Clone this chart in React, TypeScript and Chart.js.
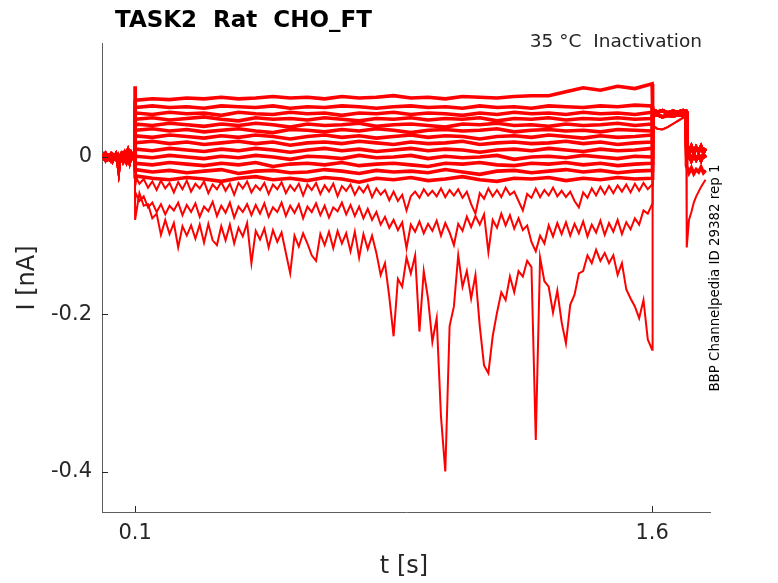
import { useEffect, useRef } from "react";
import { Chart, registerables } from "chart.js";

Chart.register(...registerables);

// ---------- axis ticks ----------
const xTickValues = [0.1, 1.6];
const xTickLabels = ["0.1", "1.6"];
const yTickValues = [-0.4, -0.2, 0];
const yTickLabels = ["-0.4", "-0.2", "0"];

// ---------- pre-pulse holding segment (0 .. 0.1 s) ----------
const preTimes = [0.0045, 0.0095, 0.0145, 0.0195, 0.0245, 0.0295, 0.0345, 0.0395, 0.0445, 0.0495, 0.0525, 0.0545, 0.0595, 0.0645, 0.0695, 0.0745, 0.0795, 0.0845, 0.0895, 0.0995];
const preA = [0.002, -0.001, 0.003, -0.002, 0.001, -0.003, 0.002, -0.001, 0.003, -0.004, -0.014, -0.006, -0.001, 0.003, -0.002, 0.004, -0.003, 0.004, -0.002, 0.003];
const preB = [-0.002, 0.002, -0.003, 0.001, -0.002, 0.002, -0.004, 0.001, -0.002, 0.001, -0.008, -0.003, 0.002, -0.004, 0.003, -0.004, 0.005, -0.005, 0.004, -0.004];

// ---------- onset transient value at t = 0.1 s, one per trace ----------
const onsetValues = [0.09, 0.072, 0.062, 0.055, 0.047, 0.04, 0.032, 0.024, 0.015, 0.005, -0.005, -0.015, -0.025, -0.035, -0.055, -0.08];

// ---------- conditioning pulse, coarse traces (0.1 .. 1.6 s, every 0.05 s) ----------
const U1 = [0.072, 0.074, 0.073, 0.075, 0.074, 0.076, 0.074, 0.075, 0.077, 0.075, 0.076, 0.074, 0.077, 0.075, 0.076, 0.078, 0.075, 0.076, 0.074, 0.077, 0.076, 0.075, 0.077, 0.078, 0.078, 0.083, 0.088, 0.085, 0.09, 0.087, 0.093];
const U2 = [0.063, 0.065, 0.063, 0.064, 0.062, 0.065, 0.064, 0.063, 0.065, 0.062, 0.064, 0.063, 0.065, 0.064, 0.062, 0.064, 0.065, 0.063, 0.064, 0.062, 0.065, 0.063, 0.064, 0.062, 0.065, 0.064, 0.063, 0.065, 0.064, 0.066, 0.065];
const U3 = [0.056, 0.054, 0.057, 0.055, 0.056, 0.053, 0.057, 0.055, 0.054, 0.057, 0.055, 0.056, 0.053, 0.056, 0.055, 0.057, 0.054, 0.056, 0.055, 0.053, 0.056, 0.054, 0.057, 0.055, 0.056, 0.054, 0.057, 0.055, 0.056, 0.054, 0.057];
const U4 = [0.048, 0.05, 0.047, 0.049, 0.051, 0.048, 0.046, 0.05, 0.048, 0.049, 0.047, 0.05, 0.048, 0.046, 0.049, 0.048, 0.05, 0.047, 0.049, 0.048, 0.05, 0.046, 0.049, 0.048, 0.05, 0.047, 0.049, 0.048, 0.05, 0.048, 0.049];
const U5 = [0.042, 0.04, 0.043, 0.041, 0.039, 0.042, 0.04, 0.043, 0.041, 0.038, 0.042, 0.04, 0.041, 0.043, 0.039, 0.041, 0.042, 0.04, 0.038, 0.042, 0.041, 0.043, 0.04, 0.041, 0.039, 0.042, 0.04, 0.041, 0.043, 0.04, 0.042];
const U6 = [0.034, 0.036, 0.033, 0.035, 0.032, 0.034, 0.036, 0.033, 0.031, 0.035, 0.034, 0.032, 0.035, 0.033, 0.036, 0.034, 0.031, 0.034, 0.035, 0.033, 0.034, 0.036, 0.032, 0.034, 0.035, 0.033, 0.034, 0.032, 0.035, 0.034, 0.033];
const U7 = [0.027, 0.025, 0.028, 0.026, 0.024, 0.027, 0.025, 0.028, 0.026, 0.023, 0.026, 0.028, 0.025, 0.027, 0.024, 0.026, 0.028, 0.025, 0.027, 0.026, 0.023, 0.026, 0.027, 0.025, 0.028, 0.026, 0.024, 0.027, 0.025, 0.026, 0.028];
const U8 = [0.018, 0.02, 0.017, 0.019, 0.016, 0.018, 0.02, 0.017, 0.019, 0.015, 0.018, 0.019, 0.017, 0.02, 0.018, 0.016, 0.019, 0.017, 0.018, 0.02, 0.016, 0.018, 0.019, 0.017, 0.018, 0.02, 0.017, 0.019, 0.016, 0.018, 0.019];
const U9 = [0.01, 0.008, 0.011, 0.009, 0.007, 0.01, 0.008, 0.011, 0.009, 0.006, 0.009, 0.011, 0.008, 0.01, 0.007, 0.009, 0.011, 0.008, 0.01, 0.009, 0.006, 0.009, 0.01, 0.008, 0.011, 0.009, 0.007, 0.01, 0.008, 0.009, 0.011];
const U10 = [0.001, -0.001, 0.002, 0.0, -0.002, 0.001, -0.001, 0.002, 0.0, -0.003, 0.001, 0.0, -0.002, 0.002, -0.001, 0.0, 0.002, -0.002, 0.001, -0.001, 0.0, 0.002, -0.003, 0.0, 0.001, -0.001, 0.002, 0.0, -0.002, 0.001, 0.0];
const U11 = [-0.008, -0.01, -0.007, -0.009, -0.011, -0.008, -0.01, -0.007, -0.012, -0.009, -0.008, -0.01, -0.007, -0.011, -0.009, -0.008, -0.01, -0.012, -0.008, -0.009, -0.007, -0.01, -0.011, -0.008, -0.009, -0.007, -0.01, -0.008, -0.011, -0.009, -0.008];
const U12 = [-0.016, -0.019, -0.017, -0.02, -0.018, -0.016, -0.021, -0.018, -0.017, -0.02, -0.019, -0.016, -0.018, -0.021, -0.017, -0.019, -0.018, -0.02, -0.016, -0.019, -0.022, -0.018, -0.017, -0.02, -0.018, -0.016, -0.019, -0.017, -0.02, -0.018, -0.017];
const U13 = [-0.024, -0.027, -0.029, -0.026, -0.028, -0.031, -0.027, -0.025, -0.029, -0.027, -0.03, -0.026, -0.028, -0.032, -0.027, -0.029, -0.026, -0.03, -0.028, -0.025, -0.029, -0.031, -0.027, -0.028, -0.026, -0.03, -0.027, -0.029, -0.026, -0.028, -0.027];

// ---------- conditioning pulse, fine traces (0.1 .. 1.6 s, every 0.0125 s) ----------
const TA = [
  -0.024, -0.034, -0.028, -0.039, -0.031, -0.042, -0.03, -0.04, -0.033, -0.045,
  -0.032, -0.041, -0.03, -0.044, -0.034, -0.04, -0.031, -0.046, -0.035, -0.041,
  -0.032, -0.043, -0.034, -0.048, -0.033, -0.04, -0.031, -0.045, -0.036, -0.042,
  -0.033, -0.047, -0.035, -0.041, -0.032, -0.046, -0.036, -0.043, -0.034, -0.049,
  -0.035, -0.042, -0.033, -0.047, -0.036, -0.044, -0.034, -0.05, -0.037, -0.043,
  -0.035, -0.048, -0.038, -0.045, -0.036, -0.051, -0.04, -0.048, -0.042, -0.055,
  -0.044, -0.056, -0.048, -0.068, -0.05, -0.044, -0.052, -0.041, -0.049, -0.043,
  -0.05, -0.04, -0.051, -0.042, -0.049, -0.041, -0.052, -0.044, -0.06, -0.072,
  -0.046, -0.053, -0.04, -0.05, -0.042, -0.051, -0.039, -0.048, -0.044, -0.056,
  -0.068, -0.047, -0.052, -0.04, -0.051, -0.042, -0.049, -0.039, -0.05, -0.043,
  -0.051, -0.044, -0.056, -0.064, -0.045, -0.052, -0.04, -0.049, -0.038, -0.047,
  -0.037, -0.046, -0.036, -0.044, -0.035, -0.045, -0.034, -0.043, -0.033, -0.041,
  -0.035,
];
const TB = [
  -0.045, -0.056, -0.05, -0.064, -0.058, -0.07, -0.06, -0.073, -0.062, -0.068,
  -0.058, -0.074, -0.061, -0.07, -0.059, -0.076, -0.063, -0.069, -0.057, -0.075,
  -0.062, -0.071, -0.058, -0.077, -0.063, -0.07, -0.06, -0.074, -0.061, -0.072,
  -0.059, -0.076, -0.064, -0.07, -0.058, -0.075, -0.062, -0.071, -0.06, -0.078,
  -0.063, -0.07, -0.059, -0.074, -0.062, -0.077, -0.064, -0.069, -0.058, -0.073,
  -0.061, -0.075, -0.063, -0.078, -0.066, -0.08, -0.07, -0.086, -0.076, -0.09,
  -0.08, -0.093, -0.083, -0.116, -0.086, -0.095, -0.082, -0.097, -0.085, -0.094,
  -0.081, -0.1, -0.084, -0.096, -0.112, -0.085, -0.094, -0.076, -0.089, -0.075,
  -0.086, -0.073, -0.121, -0.08, -0.09, -0.072, -0.087, -0.074, -0.091, -0.078,
  -0.093, -0.087, -0.108, -0.12, -0.1, -0.11, -0.087, -0.101, -0.084, -0.098,
  -0.083, -0.1, -0.085, -0.097, -0.082, -0.101, -0.086, -0.096, -0.081, -0.099,
  -0.084, -0.095, -0.08, -0.098, -0.083, -0.092, -0.078, -0.086, -0.068, -0.072,
  -0.06,
];
const TC = [
  -0.08, -0.046, -0.062, -0.06, -0.078, -0.072, -0.099, -0.08, -0.098, -0.084,
  -0.115, -0.088, -0.1, -0.087, -0.104, -0.086, -0.109, -0.085, -0.106, -0.112,
  -0.088, -0.106, -0.086, -0.11, -0.09, -0.101, -0.084, -0.135, -0.094, -0.105,
  -0.091, -0.115, -0.093, -0.108, -0.096, -0.122, -0.148, -0.1, -0.114, -0.097,
  -0.11, -0.125, -0.132, -0.098, -0.112, -0.095, -0.116, -0.094, -0.11, -0.097,
  -0.12, -0.095, -0.128, -0.098, -0.117, -0.1, -0.122, -0.15, -0.135, -0.178,
  -0.228, -0.155, -0.165, -0.128, -0.148, -0.125, -0.222, -0.145, -0.18, -0.235,
  -0.205, -0.33, -0.4, -0.215, -0.19, -0.125, -0.165, -0.145, -0.18, -0.15,
  -0.215, -0.265, -0.275, -0.228, -0.198, -0.172, -0.182, -0.152, -0.172, -0.145,
  -0.152, -0.132, -0.14, -0.36, -0.128, -0.158, -0.165, -0.198, -0.17, -0.21,
  -0.237, -0.188, -0.175, -0.148, -0.145, -0.125, -0.135, -0.118, -0.132, -0.122,
  -0.135, -0.125, -0.15, -0.135, -0.168, -0.18, -0.19, -0.205, -0.182, -0.232,
  -0.245,
];

const coarseTraces = [U1, U2, U3, U4, U5, U6, U7, U8, U9, U10, U11, U12, U13];
const fineTraces = [TA, TB, TC];

// ---------- test pulse (1.6 .. 1.7 s) ----------
const post1Times = [1.6015, 1.615, 1.63, 1.645, 1.66, 1.675, 1.69, 1.699];
const post1A = [0.06, 0.057, 0.059, 0.056, 0.058, 0.057, 0.059, 0.058];
const post1B = [0.052, 0.054, 0.051, 0.053, 0.052, 0.054, 0.053, 0.055];
const post1C = [0.04, 0.036, 0.035, 0.038, 0.042, 0.046, 0.05, 0.053];

// ---------- tail (1.7 .. 1.755 s) ----------
const post2Times = [1.7005, 1.707, 1.714, 1.721, 1.728, 1.735, 1.742, 1.749, 1.755];
const post2A = [0.012, 0.006, 0.013, 0.005, 0.012, 0.007, 0.013, 0.006, 0.011];
const post2B = [-0.002, 0.004, -0.004, 0.003, -0.003, 0.002, -0.004, 0.003, -0.001];
const post2C = [-0.115, -0.08, -0.07, -0.058, -0.05, -0.044, -0.038, -0.033, -0.029];
const post2D = [-0.012, -0.02, -0.014, -0.021, -0.016, -0.019, -0.013, -0.02, -0.017];

// which test/tail segment each trace (U1..U13, A, B, C) follows
const post1Group = ["a", "a", "a", "b", "a", "b", "a", "b", "a", "b", "a", "b", "a", "b", "c", "c"];
const post2Group = ["a", "b", "a", "b", "a", "b", "a", "b", "a", "b", "d", "a", "b", "d", "d", "c"];

const TITLE = "TASK2  Rat  CHO_FT";
const SUBTITLE = "35 °C  Inactivation";
const SIDE_TEXT = "BBP Channelpedia ID 29382 rep 1";
const X_LABEL = "t [s]";
const Y_LABEL = "I [nA]";

const FONT = "'DejaVu Sans', 'Liberation Sans', sans-serif";
const TEXT_COLOR = "#262626";

function buildDatasets() {
  const p1: Record<string, number[]> = { a: post1A, b: post1B, c: post1C };
  const p2: Record<string, number[]> = { a: post2A, b: post2B, c: post2C, d: post2D };
  const all = [...coarseTraces, ...fineTraces];
  return all.map((vals, i) => {
    const isFine = i >= coarseTraces.length;
    const step = isFine ? 0.0125 : 0.05;
    const pre = i % 2 === 0 ? preA : preB;
    const pts: { x: number; y: number }[] = [];
    preTimes.forEach((t, k) => pts.push({ x: t, y: pre[k] }));
    pts.push({ x: 0.1, y: onsetValues[i] });
    vals.forEach((v, k) => pts.push({ x: k === 0 ? 0.1005 : 0.1 + step * k, y: v }));
    const g1 = p1[post1Group[i]];
    post1Times.forEach((t, k) => pts.push({ x: t, y: g1[k] }));
    const g2 = p2[post2Group[i]];
    post2Times.forEach((t, k) => pts.push({ x: t, y: g2[k] }));
    return {
      data: pts,
      borderColor: "#ff0000",
      backgroundColor: "#ff0000",
      borderWidth: isFine ? 2 : 3.6,
      pointRadius: 0,
      tension: 0,
      fill: false,
    };
  });
}

const decorations = {
  id: "decorations",
  afterDraw(chart: any) {
    const { ctx, chartArea, scales } = chart;
    ctx.save();
    // inward ticks
    ctx.strokeStyle = TEXT_COLOR;
    ctx.lineWidth = 1;
    xTickValues.forEach((v) => {
      const px = Math.round(scales.x.getPixelForValue(v)) + 0.5;
      ctx.beginPath();
      ctx.moveTo(px, chartArea.bottom);
      ctx.lineTo(px, chartArea.bottom - 6);
      ctx.stroke();
    });
    yTickValues.forEach((v) => {
      const py = Math.round(scales.y.getPixelForValue(v)) + 0.5;
      ctx.beginPath();
      ctx.moveTo(chartArea.left, py);
      ctx.lineTo(chartArea.left + 6, py);
      ctx.stroke();
    });
    // title
    ctx.fillStyle = "#000000";
    ctx.font = `bold 23px ${FONT}`;
    ctx.textAlign = "left";
    ctx.textBaseline = "alphabetic";
    ctx.fillText(TITLE, 115, 27);
    // subtitle
    ctx.fillStyle = TEXT_COLOR;
    ctx.font = `18.5px ${FONT}`;
    ctx.textAlign = "right";
    ctx.fillText(SUBTITLE, 702, 47);
    // x label
    ctx.font = `24px ${FONT}`;
    ctx.textAlign = "center";
    ctx.textBaseline = "middle";
    ctx.fillText(X_LABEL, 404, 567);
    // y label
    ctx.save();
    ctx.translate(28, 278);
    ctx.rotate(-Math.PI / 2);
    ctx.fillText(Y_LABEL, 0, 0);
    ctx.restore();
    // side text
    ctx.save();
    ctx.translate(716, 278);
    ctx.rotate(-Math.PI / 2);
    ctx.font = `13.4px ${FONT}`;
    ctx.fillStyle = "#000000";
    ctx.fillText(SIDE_TEXT, 0, 0);
    ctx.restore();
    ctx.restore();
  },
};

export default function App() {
  const ref = useRef<HTMLCanvasElement | null>(null);
  useEffect(() => {
    if (!ref.current) return;
    const chart = new Chart(ref.current, {
      type: "line",
      data: { datasets: buildDatasets() as any },
      options: {
        animation: false,
        responsive: false,
        maintainAspectRatio: false,
        parsing: false,
        normalized: true,
        layout: { padding: { left: 0, right: 68, top: 43, bottom: 0 } },
        plugins: {
          legend: { display: false },
          tooltip: { enabled: false },
          title: { display: false },
        },
        scales: {
          x: {
            type: "linear",
            min: 0.004,
            max: 1.768,
            grid: { display: false, drawTicks: false },
            border: { display: true, color: "#5e5e5e", width: 1 },
            afterBuildTicks: (scale: any) => {
              scale.ticks = xTickValues.map((v) => ({ value: v }));
            },
            afterFit: (scale: any) => {
              scale.height = 71;
            },
            ticks: {
              autoSkip: false,
              maxRotation: 0,
              padding: 9,
              color: TEXT_COLOR,
              font: { family: FONT, size: 21 },
              callback: (value: any) => {
                const idx = xTickValues.findIndex((v) => Math.abs(v - Number(value)) < 1e-6);
                return idx >= 0 ? xTickLabels[idx] : "";
              },
            },
          },
          y: {
            type: "linear",
            min: -0.4515,
            max: 0.145,
            grid: { display: false, drawTicks: false },
            border: { display: true, color: "#5e5e5e", width: 1 },
            afterBuildTicks: (scale: any) => {
              scale.ticks = yTickValues.map((v) => ({ value: v }));
            },
            afterFit: (scale: any) => {
              scale.width = 102;
            },
            ticks: {
              autoSkip: false,
              padding: 10,
              color: TEXT_COLOR,
              font: { family: FONT, size: 21 },
              callback: (value: any) => {
                const idx = yTickValues.findIndex((v) => Math.abs(v - Number(value)) < 1e-6);
                return idx >= 0 ? yTickLabels[idx] : "";
              },
            },
          },
        },
      },
      plugins: [decorations],
    });
    return () => chart.destroy();
  }, []);
  return (
    <div style={{ position: "fixed", left: 0, top: 0, width: 778, height: 583, background: "#ffffff" }}>
      <canvas ref={ref} width={778} height={583} style={{ width: 778, height: 583, display: "block" }} />
    </div>
  );
}
